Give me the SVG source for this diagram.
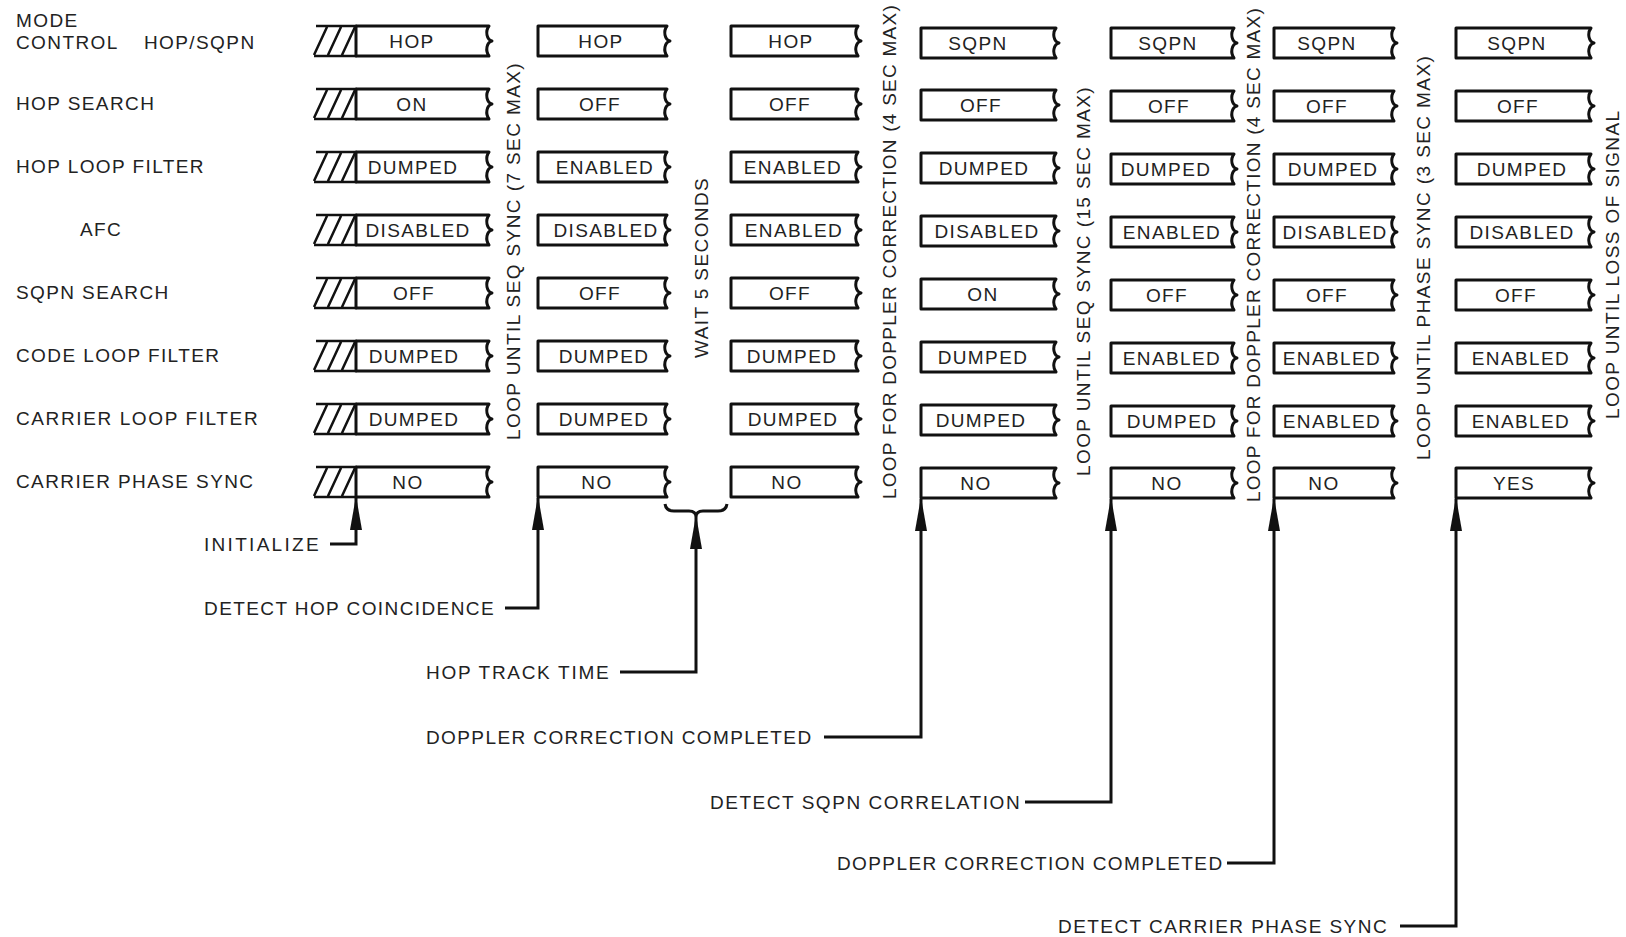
<svg xmlns="http://www.w3.org/2000/svg" width="1626" height="937" viewBox="0 0 1626 937">
<style>
text{font-family:"Liberation Sans",Arial,sans-serif;font-size:19px;letter-spacing:1.4px;fill:#222}
.bt{text-anchor:middle}
.tight{letter-spacing:1.25px}
.box{fill:#fff;stroke:#111;stroke-width:3;stroke-linejoin:round}
.ln{fill:none;stroke:#111;stroke-width:3}
.ht{fill:none;stroke:#111;stroke-width:2.5}
</style>
<defs>
<marker id="ah" markerUnits="userSpaceOnUse" markerWidth="34" markerHeight="14" refX="32" refY="7" orient="auto"><path d="M0,1 L34,7 L0,13 Z" fill="#111"/></marker>
<g id="hatch"><path class="ht" d="M316,0 H357 M314,30 H357 M314,29 L327,1 M328,29 L341,1 M342,29 L355,1"/></g>
</defs>
<rect width="1626" height="937" fill="#fff"/>
<g id="labels">
<text x="16" y="27">MODE</text>
<text x="16" y="49">CONTROL</text>
<text x="144" y="49">HOP/SQPN</text>
<text x="16" y="110">HOP SEARCH</text>
<text x="16" y="173">HOP LOOP FILTER</text>
<text x="80" y="236">AFC</text>
<text x="16" y="299">SQPN SEARCH</text>
<text x="16" y="362">CODE LOOP FILTER</text>
<text x="16" y="425" textLength="243" lengthAdjust="spacing">CARRIER LOOP FILTER</text>
<text x="16" y="488">CARRIER PHASE SYNC</text>
</g>
<g id="hatches">
<use href="#hatch" y="26"/><use href="#hatch" y="89"/><use href="#hatch" y="152"/><use href="#hatch" y="215"/>
<use href="#hatch" y="278"/><use href="#hatch" y="341"/><use href="#hatch" y="404"/><use href="#hatch" y="467"/>
</g>
<g id="col1">
<path class="box" d="M356,26 H489 q-3,4 -2,9 q1,5 5,6 q-4,1 -5,6 q-1,5 2,9 H356 Z"/><text class="bt" x="412" y="48">HOP</text>
<path class="box" d="M356,89 H489 q-3,4 -2,9 q1,5 5,6 q-4,1 -5,6 q-1,5 2,9 H356 Z"/><text class="bt" x="412" y="111">ON</text>
<path class="box" d="M356,152 H489 q-3,4 -2,9 q1,5 5,6 q-4,1 -5,6 q-1,5 2,9 H356 Z"/><text class="bt" x="413" y="174">DUMPED</text>
<path class="box" d="M356,215 H489 q-3,4 -2,9 q1,5 5,6 q-4,1 -5,6 q-1,5 2,9 H356 Z"/><text class="bt" x="418" y="237">DISABLED</text>
<path class="box" d="M356,278 H489 q-3,4 -2,9 q1,5 5,6 q-4,1 -5,6 q-1,5 2,9 H356 Z"/><text class="bt" x="414" y="300">OFF</text>
<path class="box" d="M356,341 H489 q-3,4 -2,9 q1,5 5,6 q-4,1 -5,6 q-1,5 2,9 H356 Z"/><text class="bt" x="414" y="363">DUMPED</text>
<path class="box" d="M356,404 H489 q-3,4 -2,9 q1,5 5,6 q-4,1 -5,6 q-1,5 2,9 H356 Z"/><text class="bt" x="414" y="426">DUMPED</text>
<path class="box" d="M356,467 H489 q-3,4 -2,9 q1,5 5,6 q-4,1 -5,6 q-1,5 2,9 H356 Z"/><text class="bt" x="408" y="489">NO</text>
</g>
<g id="col2">
<path class="box" d="M538,26 H667 q-3,4 -2,9 q1,5 5,6 q-4,1 -5,6 q-1,5 2,9 H538 Z"/><text class="bt" x="601" y="48">HOP</text>
<path class="box" d="M538,89 H667 q-3,4 -2,9 q1,5 5,6 q-4,1 -5,6 q-1,5 2,9 H538 Z"/><text class="bt" x="600" y="111">OFF</text>
<path class="box" d="M538,152 H667 q-3,4 -2,9 q1,5 5,6 q-4,1 -5,6 q-1,5 2,9 H538 Z"/><text class="bt" x="605" y="174">ENABLED</text>
<path class="box" d="M538,215 H667 q-3,4 -2,9 q1,5 5,6 q-4,1 -5,6 q-1,5 2,9 H538 Z"/><text class="bt" x="606" y="237">DISABLED</text>
<path class="box" d="M538,278 H667 q-3,4 -2,9 q1,5 5,6 q-4,1 -5,6 q-1,5 2,9 H538 Z"/><text class="bt" x="600" y="300">OFF</text>
<path class="box" d="M538,341 H667 q-3,4 -2,9 q1,5 5,6 q-4,1 -5,6 q-1,5 2,9 H538 Z"/><text class="bt" x="604" y="363">DUMPED</text>
<path class="box" d="M538,404 H667 q-3,4 -2,9 q1,5 5,6 q-4,1 -5,6 q-1,5 2,9 H538 Z"/><text class="bt" x="604" y="426">DUMPED</text>
<path class="box" d="M538,467 H667 q-3,4 -2,9 q1,5 5,6 q-4,1 -5,6 q-1,5 2,9 H538 Z"/><text class="bt" x="597" y="489">NO</text>
</g>
<g id="col3">
<path class="box" d="M731,26 H858 q-3,4 -2,9 q1,5 5,6 q-4,1 -5,6 q-1,5 2,9 H731 Z"/><text class="bt" x="791" y="48">HOP</text>
<path class="box" d="M731,89 H858 q-3,4 -2,9 q1,5 5,6 q-4,1 -5,6 q-1,5 2,9 H731 Z"/><text class="bt" x="790" y="111">OFF</text>
<path class="box" d="M731,152 H858 q-3,4 -2,9 q1,5 5,6 q-4,1 -5,6 q-1,5 2,9 H731 Z"/><text class="bt" x="793" y="174">ENABLED</text>
<path class="box" d="M731,215 H858 q-3,4 -2,9 q1,5 5,6 q-4,1 -5,6 q-1,5 2,9 H731 Z"/><text class="bt" x="794" y="237">ENABLED</text>
<path class="box" d="M731,278 H858 q-3,4 -2,9 q1,5 5,6 q-4,1 -5,6 q-1,5 2,9 H731 Z"/><text class="bt" x="790" y="300">OFF</text>
<path class="box" d="M731,341 H858 q-3,4 -2,9 q1,5 5,6 q-4,1 -5,6 q-1,5 2,9 H731 Z"/><text class="bt" x="792" y="363">DUMPED</text>
<path class="box" d="M731,404 H858 q-3,4 -2,9 q1,5 5,6 q-4,1 -5,6 q-1,5 2,9 H731 Z"/><text class="bt" x="793" y="426">DUMPED</text>
<path class="box" d="M731,467 H858 q-3,4 -2,9 q1,5 5,6 q-4,1 -5,6 q-1,5 2,9 H731 Z"/><text class="bt" x="787" y="489">NO</text>
</g>
<g id="col4">
<path class="box" d="M921,28 H1056 q-3,4 -2,9 q1,5 5,6 q-4,1 -5,6 q-1,5 2,9 H921 Z"/><text class="bt" x="978" y="50">SQPN</text>
<path class="box" d="M921,90 H1056 q-3,4 -2,9 q1,5 5,6 q-4,1 -5,6 q-1,5 2,9 H921 Z"/><text class="bt" x="981" y="112">OFF</text>
<path class="box" d="M921,153 H1056 q-3,4 -2,9 q1,5 5,6 q-4,1 -5,6 q-1,5 2,9 H921 Z"/><text class="bt" x="984" y="175">DUMPED</text>
<path class="box" d="M921,216 H1056 q-3,4 -2,9 q1,5 5,6 q-4,1 -5,6 q-1,5 2,9 H921 Z"/><text class="bt" x="987" y="238">DISABLED</text>
<path class="box" d="M921,279 H1056 q-3,4 -2,9 q1,5 5,6 q-4,1 -5,6 q-1,5 2,9 H921 Z"/><text class="bt" x="983" y="301">ON</text>
<path class="box" d="M921,342 H1056 q-3,4 -2,9 q1,5 5,6 q-4,1 -5,6 q-1,5 2,9 H921 Z"/><text class="bt" x="983" y="364">DUMPED</text>
<path class="box" d="M921,405 H1056 q-3,4 -2,9 q1,5 5,6 q-4,1 -5,6 q-1,5 2,9 H921 Z"/><text class="bt" x="981" y="427">DUMPED</text>
<path class="box" d="M921,468 H1056 q-3,4 -2,9 q1,5 5,6 q-4,1 -5,6 q-1,5 2,9 H921 Z"/><text class="bt" x="976" y="490">NO</text>
</g>
<g id="col5">
<path class="box" d="M1111,28 H1234 q-3,4 -2,9 q1,5 5,6 q-4,1 -5,6 q-1,5 2,9 H1111 Z"/><text class="bt" x="1168" y="50">SQPN</text>
<path class="box" d="M1111,91 H1234 q-3,4 -2,9 q1,5 5,6 q-4,1 -5,6 q-1,5 2,9 H1111 Z"/><text class="bt" x="1169" y="113">OFF</text>
<path class="box" d="M1111,154 H1234 q-3,4 -2,9 q1,5 5,6 q-4,1 -5,6 q-1,5 2,9 H1111 Z"/><text class="bt" x="1166" y="176">DUMPED</text>
<path class="box" d="M1111,217 H1234 q-3,4 -2,9 q1,5 5,6 q-4,1 -5,6 q-1,5 2,9 H1111 Z"/><text class="bt" x="1172" y="239">ENABLED</text>
<path class="box" d="M1111,280 H1234 q-3,4 -2,9 q1,5 5,6 q-4,1 -5,6 q-1,5 2,9 H1111 Z"/><text class="bt" x="1167" y="302">OFF</text>
<path class="box" d="M1111,343 H1234 q-3,4 -2,9 q1,5 5,6 q-4,1 -5,6 q-1,5 2,9 H1111 Z"/><text class="bt" x="1172" y="365">ENABLED</text>
<path class="box" d="M1111,406 H1234 q-3,4 -2,9 q1,5 5,6 q-4,1 -5,6 q-1,5 2,9 H1111 Z"/><text class="bt" x="1172" y="428">DUMPED</text>
<path class="box" d="M1111,468 H1234 q-3,4 -2,9 q1,5 5,6 q-4,1 -5,6 q-1,5 2,9 H1111 Z"/><text class="bt" x="1167" y="490">NO</text>
</g>
<g id="col6">
<path class="box" d="M1274,28 H1394 q-3,4 -2,9 q1,5 5,6 q-4,1 -5,6 q-1,5 2,9 H1274 Z"/><text class="bt" x="1327" y="50">SQPN</text>
<path class="box" d="M1274,91 H1394 q-3,4 -2,9 q1,5 5,6 q-4,1 -5,6 q-1,5 2,9 H1274 Z"/><text class="bt" x="1327" y="113">OFF</text>
<path class="box" d="M1274,154 H1394 q-3,4 -2,9 q1,5 5,6 q-4,1 -5,6 q-1,5 2,9 H1274 Z"/><text class="bt" x="1333" y="176">DUMPED</text>
<path class="box" d="M1274,217 H1394 q-3,4 -2,9 q1,5 5,6 q-4,1 -5,6 q-1,5 2,9 H1274 Z"/><text class="bt" x="1335" y="239">DISABLED</text>
<path class="box" d="M1274,280 H1394 q-3,4 -2,9 q1,5 5,6 q-4,1 -5,6 q-1,5 2,9 H1274 Z"/><text class="bt" x="1327" y="302">OFF</text>
<path class="box" d="M1274,343 H1394 q-3,4 -2,9 q1,5 5,6 q-4,1 -5,6 q-1,5 2,9 H1274 Z"/><text class="bt" x="1332" y="365">ENABLED</text>
<path class="box" d="M1274,406 H1394 q-3,4 -2,9 q1,5 5,6 q-4,1 -5,6 q-1,5 2,9 H1274 Z"/><text class="bt" x="1332" y="428">ENABLED</text>
<path class="box" d="M1274,468 H1394 q-3,4 -2,9 q1,5 5,6 q-4,1 -5,6 q-1,5 2,9 H1274 Z"/><text class="bt" x="1324" y="490">NO</text>
</g>
<g id="col7">
<path class="box" d="M1456,28 H1591 q-3,4 -2,9 q1,5 5,6 q-4,1 -5,6 q-1,5 2,9 H1456 Z"/><text class="bt" x="1517" y="50">SQPN</text>
<path class="box" d="M1456,91 H1591 q-3,4 -2,9 q1,5 5,6 q-4,1 -5,6 q-1,5 2,9 H1456 Z"/><text class="bt" x="1518" y="113">OFF</text>
<path class="box" d="M1456,154 H1591 q-3,4 -2,9 q1,5 5,6 q-4,1 -5,6 q-1,5 2,9 H1456 Z"/><text class="bt" x="1522" y="176">DUMPED</text>
<path class="box" d="M1456,217 H1591 q-3,4 -2,9 q1,5 5,6 q-4,1 -5,6 q-1,5 2,9 H1456 Z"/><text class="bt" x="1522" y="239">DISABLED</text>
<path class="box" d="M1456,280 H1591 q-3,4 -2,9 q1,5 5,6 q-4,1 -5,6 q-1,5 2,9 H1456 Z"/><text class="bt" x="1516" y="302">OFF</text>
<path class="box" d="M1456,343 H1591 q-3,4 -2,9 q1,5 5,6 q-4,1 -5,6 q-1,5 2,9 H1456 Z"/><text class="bt" x="1521" y="365">ENABLED</text>
<path class="box" d="M1456,406 H1591 q-3,4 -2,9 q1,5 5,6 q-4,1 -5,6 q-1,5 2,9 H1456 Z"/><text class="bt" x="1521" y="428">ENABLED</text>
<path class="box" d="M1456,468 H1591 q-3,4 -2,9 q1,5 5,6 q-4,1 -5,6 q-1,5 2,9 H1456 Z"/><text class="bt" x="1514" y="490">YES</text>
</g>
<g id="loops">
<text transform="translate(520,440) rotate(-90)">LOOP UNTIL SEQ SYNC (7 SEC MAX)</text>
<text transform="translate(708,358) rotate(-90)">WAIT 5 SECONDS</text>
<text class="tight" transform="translate(896,499) rotate(-90)">LOOP FOR DOPPLER CORRECTION (4 SEC MAX)</text>
<text transform="translate(1090,476) rotate(-90)">LOOP UNTIL SEQ SYNC (15 SEC MAX)</text>
<text class="tight" transform="translate(1260,502) rotate(-90)">LOOP FOR DOPPLER CORRECTION (4 SEC MAX)</text>
<text transform="translate(1430,460) rotate(-90)">LOOP UNTIL PHASE SYNC (3 SEC MAX)</text>
<text transform="translate(1619,419) rotate(-90)">LOOP UNTIL LOSS OF SIGNAL</text>
</g>
<g id="events">
<text x="204" y="551" textLength="116" lengthAdjust="spacing">INITIALIZE</text>
<text x="204" y="615" textLength="291" lengthAdjust="spacing">DETECT HOP COINCIDENCE</text>
<text x="426" y="679" textLength="184" lengthAdjust="spacing">HOP TRACK TIME</text>
<text x="426" y="744">DOPPLER CORRECTION COMPLETED</text>
<text x="710" y="809" textLength="311" lengthAdjust="spacing">DETECT SQPN CORRELATION</text>
<text x="837" y="870">DOPPLER CORRECTION COMPLETED</text>
<text x="1058" y="933" textLength="330" lengthAdjust="spacing">DETECT CARRIER PHASE SYNC</text>
</g>
<g id="connectors">
<path class="ln" d="M665,504 Q666,511 674,511 H689 Q696,511 696,517 Q696,511 703,511 H718 Q726,511 727,504"/>
<path class="ln" marker-end="url(#ah)" d="M330,544 H356 V498"/>
<path class="ln" marker-end="url(#ah)" d="M505,608 H538 V498"/>
<path class="ln" marker-end="url(#ah)" d="M620,672 H696 V517"/>
<path class="ln" marker-end="url(#ah)" d="M824,737 H921 V499"/>
<path class="ln" marker-end="url(#ah)" d="M1025,802 H1111 V499"/>
<path class="ln" marker-end="url(#ah)" d="M1227,863 H1274 V499"/>
<path class="ln" marker-end="url(#ah)" d="M1400,926 H1456 V499"/>
</g>
</svg>
